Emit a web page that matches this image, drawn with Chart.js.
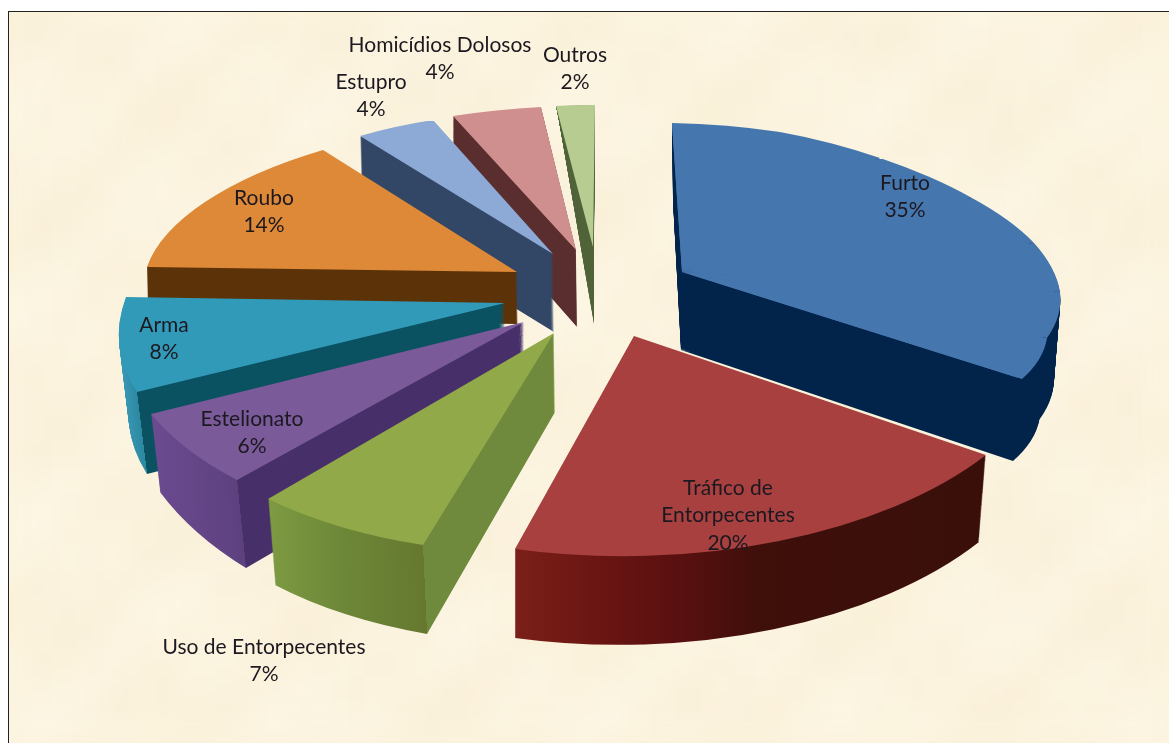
<!DOCTYPE html>
<html>
<head>
<meta charset="utf-8">
<title>Crimes</title>
<script src="https://cdn.jsdelivr.net/npm/chart.js@4/dist/chart.umd.min.js"></script>
<style>
  html, body { margin: 0; padding: 0; background: #fff; }
  canvas { display: block; }
</style>
</head>
<body>
<canvas id="chart" width="1169" height="743"></canvas>
<script>
var categorias = ["Furto", "Tráfico de Entorpecentes", "Uso de Entorpecentes", "Estelionato", "Arma", "Roubo", "Estupro", "Homicídios Dolosos", "Outros"];
var valores = [35, 20, 7, 6, 8, 14, 4, 4, 2];
var cores = ["#4676ae", "#a8403f", "#92a94a", "#7a5a99", "#319ab8", "#dd8938", "#8da9d6", "#d08f8f", "#b6cc90"];

// linhas de cada rotulo, x central, y da primeira linha
var rotulos = [
  [["Furto"], 905, 183],
  [["Tráfico de", "Entorpecentes"], 728, 488],
  [["Uso de Entorpecentes"], 264, 647],
  [["Estelionato"], 252, 419],
  [["Arma"], 164, 325],
  [["Roubo"], 264, 198],
  [["Estupro"], 371, 82],
  [["Homicídios Dolosos"], 440, 45],
  [["Outros"], 575, 55]
];

// perspectiva: ponta da fatia e pontos da borda no sentido horario
var pontas = [[682, 272], [634, 336], [554, 333], [524, 322], [505, 303], [517, 272], [553, 254], [576, 250], [593, 247]];
var bordas = [
  [[672, 123], [780, 132], [880, 158], [972, 198], [1034, 243], [1060, 292], [1047, 338], [1022, 379]],
  [[986, 455], [515, 549]],
  [[423, 545], [268, 499]],
  [[237, 480], [151, 414]],
  [[137, 392], [126, 297]],
  [[147, 267], [323, 150]],
  [[433, 120], [360, 136]],
  [[541, 107], [453, 116]],
  [[595, 105], [556, 106]]
];
// espessura: na ponta, no inicio e no fim da borda
var espessuras = [
  [[-1, 78], [1, 78], [-9, 82]],
  [[0, 88], [-7, 87], [0, 89]],
  [[1, 79], [4, 89], [7, 86]],
  [[0, 84], [9, 88], [9, 78]],
  [[0, 80], [10, 82], [9, 78]],
  [[1, 52], [1, 52], [1, 52]],
  [[1, 78], [1, 78], [2, 78]],
  [[1, 77], [1, 70], [0, 70]],
  [[1, 77], [-1, 60], [1, 3]]
];
var paredes = [
  [[670, "#03244a"], [1060, "#03244a"]],
  [[515, "#7b1f19"], [600, "#6a1512"], [680, "#591010"], [760, "#3f0f0a"], [980, "#3a0f0a"]],
  [[270, "#7d9a42"], [340, "#6d8838"], [425, "#66782f"]],
  [[155, "#6b4a8f"], [245, "#5d417f"]],
  [[120, "#3a9bb9"], [150, "#2d88a0"]],
  [[147, "#5c3208"], [520, "#5c3208"]],
  [[360, "#324666"], [560, "#324666"]],
  [[450, "#5a2e2e"], [580, "#5a2e2e"]],
  [[555, "#4f6238"], [596, "#4f6238"]]
];
var lados = [null, null, "#6f8a3c", "#47306a", "#0a5161", null, null, null, null];
var ordem = [8, 7, 6, 0, 5, 4, 3, 2, 1];

function fundo(ctx) {
  ctx.save();
  ctx.fillStyle = "#fff";
  ctx.fillRect(0, 0, 1169, 743);
  var tile = document.createElement("canvas");
  tile.width = 1169; tile.height = 743;
  var t = tile.getContext("2d");
  t.fillStyle = "#fbf3de";
  t.fillRect(0, 0, 1169, 743);
  for (var y = 0; y < 743; y += 26) {
    for (var x = 0; x < 1169; x += 26) {
      var s = Math.sin(x * 0.023 + 1) * Math.cos(y * 0.031) + Math.sin((x + y) * 0.057) * 0.6 + Math.sin(x * 0.11 - y * 0.07) * 0.4;
      t.fillStyle = s > 0 ? "rgba(248,233,200," + (s * 0.16) + ")" : "rgba(255,252,240," + (-s * 0.25) + ")";
      t.fillRect(x, y, 26, 26);
    }
  }
  ctx.beginPath();
  ctx.rect(9, 12, 1160, 731);
  ctx.clip();
  ctx.fillStyle = "#fbf3de";
  ctx.fillRect(0, 0, 1169, 743);
  ctx.filter = "blur(12px)";
  ctx.drawImage(tile, 0, 0);
  ctx.filter = "none";
  ctx.restore();
  ctx.fillStyle = "#222";
  ctx.fillRect(8, 11, 1161, 1);
  ctx.fillRect(8, 11, 1, 732);
}

// matriz que leva centro e dois pontos do arco para tres pontos da figura
function matriz(c, ls, le, T, S, E) {
  var ux = ls[0] - c[0], uy = ls[1] - c[1], vx = le[0] - c[0], vy = le[1] - c[1];
  var det = ux * vy - vx * uy;
  var px = S[0] - T[0], py = S[1] - T[1], qx = E[0] - T[0], qy = E[1] - T[1];
  var a = (px * vy - qx * uy) / det, cc = (qx * ux - px * vx) / det;
  var b = (py * vy - qy * uy) / det, d = (qy * ux - py * vx) / det;
  return [a, b, cc, d, T[0] - a * c[0] - cc * c[1], T[1] - b * c[0] - d * c[1]];
}

function mistura(p, q, t) {
  return [p[0] + (q[0] - p[0]) * t, p[1] + (q[1] - p[1]) * t];
}

function gradiente(ctx, m, stops, lado, corte) {
  var k = m[0] * m[0] + m[2] * m[2];
  var x0 = stops[0][0], x1 = stops[stops.length - 1][0];
  if (lado) x1 = Math.max(x1, corte) + 400;
  var t0 = (x0 - m[4]) / k, t1 = (x1 - m[4]) / k;
  var g = ctx.createLinearGradient(t0 * m[0], t0 * m[2], t1 * m[0], t1 * m[2]);
  var pos = function (x) { return Math.min(1, Math.max(0, (x - x0) / (x1 - x0))); };
  stops.forEach(function (s) {
    if (!lado || s[0] < corte) g.addColorStop(pos(s[0]), s[1]);
  });
  if (lado) {
    g.addColorStop(pos(corte), stops[stops.length - 1][1]);
    g.addColorStop(pos(corte), lado);
    g.addColorStop(1, lado);
  }
  return g;
}

// desenha a fatia em pedacos, um por trecho da borda
// sobra > 0: pedacos um pouco mais largos e mais curtos, por baixo, para esconder as emendas
function fatia(ctx, arc, i, t, solida, sobra) {
  var rim = bordas[i], n = rim.length - 1, esp = espessuras[i];
  var c = [arc.x, arc.y], R = arc.outerRadius;
  var passo = (arc.endAngle - arc.startAngle) / n;
  var T = [pontas[i][0] + esp[0][0] * t, pontas[i][1] + esp[0][1] * t];
  var corte = rim[0][0] + esp[1][0] * t;
  for (var j = 0; j < n; j++) {
    var a0 = arc.startAngle + passo * j, a1 = a0 + passo;
    var d0 = mistura(esp[1], esp[2], j / n), d1 = mistura(esp[1], esp[2], (j + 1) / n);
    var S = [rim[j][0] + d0[0] * t, rim[j][1] + d0[1] * t];
    var E = [rim[j + 1][0] + d1[0] * t, rim[j + 1][1] + d1[1] * t];
    var m = matriz(c, [c[0] + R * Math.cos(a0), c[1] + R * Math.sin(a0)], [c[0] + R * Math.cos(a1), c[1] + R * Math.sin(a1)], T, S, E);
    ctx.save();
    ctx.setTransform(m[0], m[1], m[2], m[3], m[4], m[5]);
    var el = Object.create(arc);
    el.startAngle = a0;
    el.endAngle = j < n - 1 ? a1 + sobra : a1;
    el.circumference = el.endAngle - a0;
    if (sobra) el.outerRadius = R * 0.985;
    el.options = Object.assign({}, arc.options, {
      borderWidth: 0,
      backgroundColor: solida ? arc.options.backgroundColor : gradiente(ctx, m, paredes[i], lados[i], corte)
    });
    el.draw(ctx);
    ctx.restore();
  }
}

var pizza3d = {
  id: "pizza3d",
  beforeDraw: function (chart) { fundo(chart.ctx); },
  beforeDatasetsDraw: function (chart) {
    var ctx = chart.ctx, arcos = chart.getDatasetMeta(0).data;
    ordem.forEach(function (i) {
      var h = 0;
      espessuras[i].forEach(function (d) { h = Math.max(h, d[1]); });
      for (var k = Math.ceil(h); k >= 1; k--) fatia(ctx, arcos[i], i, k / Math.ceil(h), false, 0);
      if (bordas[i].length > 2) fatia(ctx, arcos[i], i, 0, true, 0.03);
      fatia(ctx, arcos[i], i, 0, true, 0);
    });
    return false;
  },
  afterDraw: function (chart) {
    var ctx = chart.ctx;
    ctx.save();
    ctx.font = "21px Lato";
    ctx.fillStyle = "#1c1820";
    ctx.textAlign = "center";
    ctx.textBaseline = "middle";
    rotulos.forEach(function (r, i) {
      var linhas = r[0].concat([valores[i] + "%"]);
      linhas.forEach(function (txt, l) { ctx.fillText(txt, r[1], r[2] + l * 27.5); });
    });
    ctx.restore();
  }
};

var chart = new Chart("chart", {
  type: "pie",
  data: {
    labels: categorias,
    datasets: [{ data: valores, backgroundColor: cores, borderWidth: 0 }]
  },
  options: {
    responsive: false,
    animation: false,
    plugins: { legend: { display: false }, tooltip: { enabled: false } }
  },
  plugins: [pizza3d]
});
</script>
</body>
</html>
